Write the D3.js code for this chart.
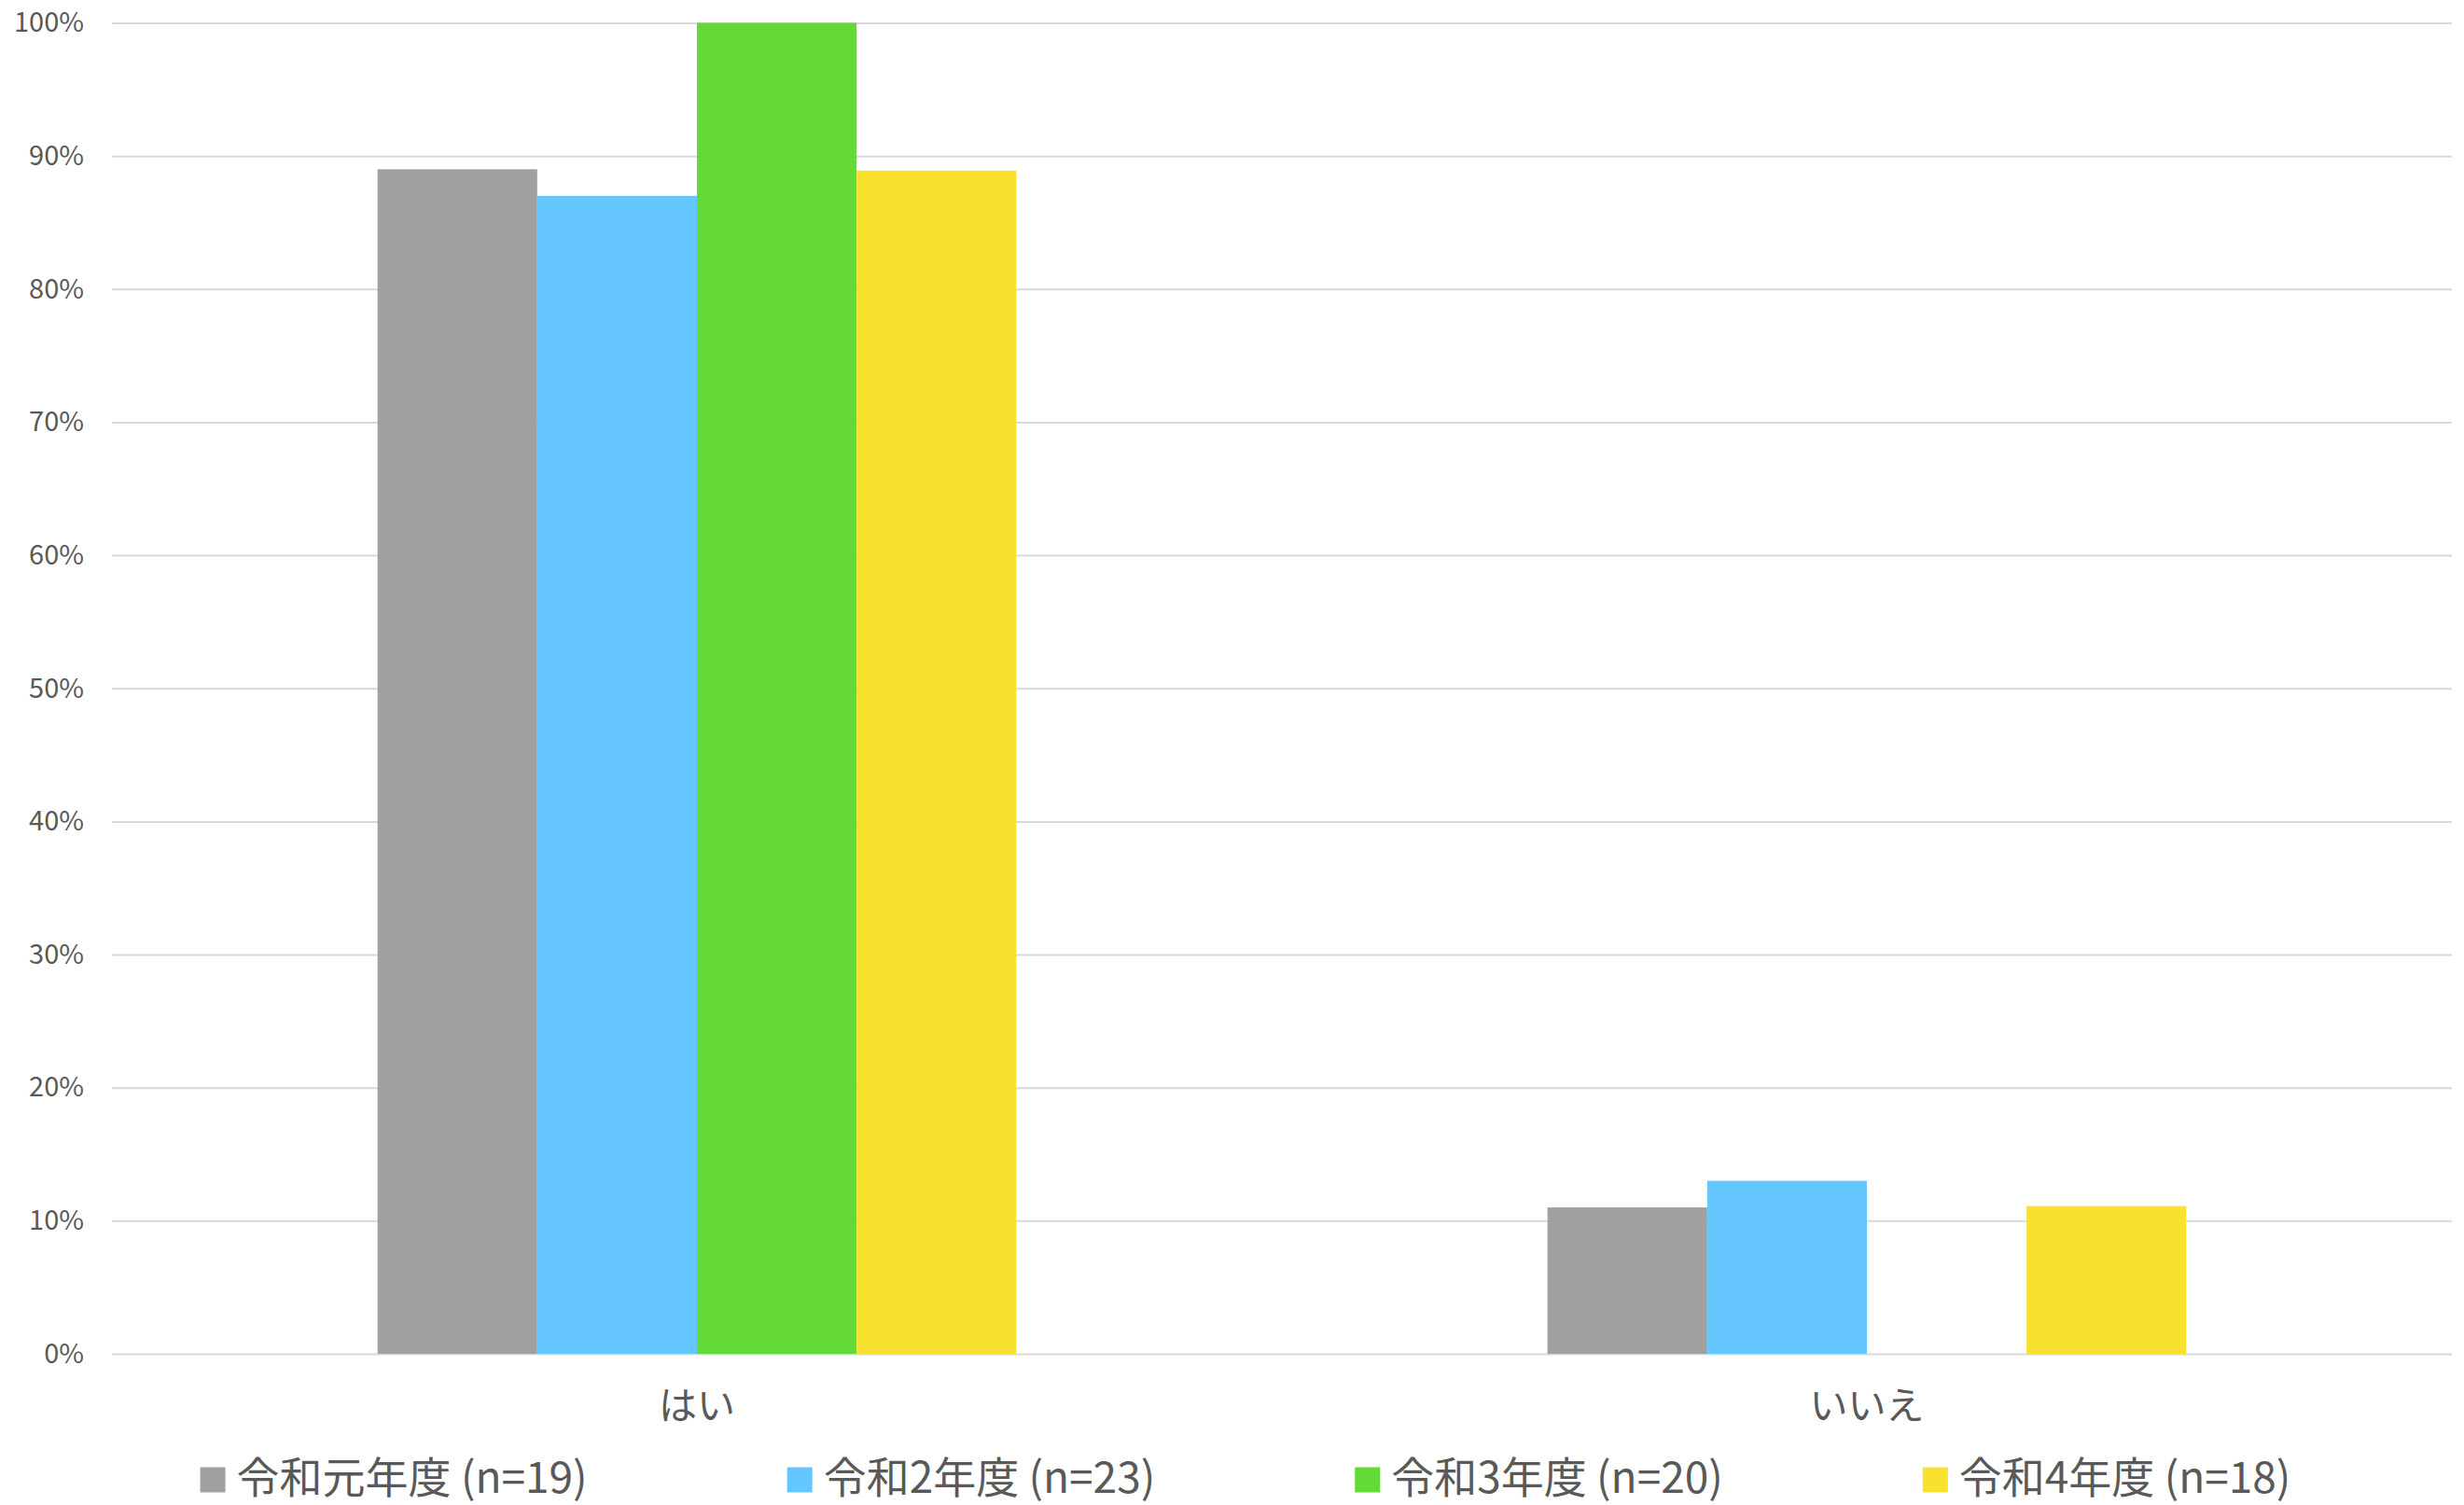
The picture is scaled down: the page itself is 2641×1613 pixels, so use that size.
<!DOCTYPE html>
<html>
<head>
<meta charset="utf-8">
<script src="https://cdn.jsdelivr.net/npm/d3@7"></script>
<style>
  html, body { margin: 0; padding: 0; background: #fff; }
  svg { display: block; }
  text { font-family: "Noto Sans CJK JP", "Noto Sans", sans-serif; fill: #595959; }
</style>
</head>
<body>
<svg id="chart" width="2641" height="1613"></svg>
<script>
// Survey answers by fiscal year (share of respondents)
const categories = ["はい", "いいえ"];
const seriesNames = ["令和元年度 (n=19)", "令和2年度 (n=23)", "令和3年度 (n=20)", "令和4年度 (n=18)"];
const r1Values = [0.89, 0.11];
const r2Values = [0.87, 0.13];
const r3Values = [1.00, 0.00];
const r4Values = [0.889, 0.111];
const seriesColors = ["#a0a0a0", "#66c7ff", "#63da38", "#f8e12f"];
const yTicks = [0, 0.1, 0.2, 0.3, 0.4, 0.5, 0.6, 0.7, 0.8, 0.9, 1.0];

const series = [r1Values, r2Values, r3Values, r4Values].map((vals, i) => ({
  name: seriesNames[i], color: seriesColors[i], values: vals
}));

const svg = d3.select("#chart");
const margin = { left: 120, right: 13, top: 24.5, bottom: 162 };
const W = 2641, H = 1613;
const plotBottom = H - margin.bottom;

const x0 = d3.scaleBand()
  .domain(categories)
  .range([margin.left, W - margin.right])
  .paddingInner(0.454)
  .paddingOuter(0.227);

const x1 = d3.scaleBand()
  .domain(d3.range(series.length))
  .range([0, x0.bandwidth()]);

const y = d3.scaleLinear().domain([0, 1]).range([plotBottom, margin.top]);

// horizontal gridlines and percentage labels
const yAxis = d3.axisLeft(y)
  .tickValues(yTicks)
  .tickFormat(d3.format(".0%"))
  .tickSize(-(W - margin.right - margin.left))
  .tickPadding(30);

const gy = svg.append("g")
  .attr("transform", `translate(${margin.left},0)`)
  .call(yAxis);
gy.select(".domain").remove();
gy.selectAll(".tick line").attr("stroke", "#d9d9d9").attr("stroke-width", 2);
gy.selectAll(".tick text")
  .attr("font-size", 29)
  .attr("fill", "#595959")
  .style("font-family", '"Noto Sans CJK JP", sans-serif');

// grouped bars
const groups = svg.append("g")
  .selectAll("g")
  .data(categories)
  .join("g")
  .attr("transform", d => `translate(${x0(d)},0)`);

groups.selectAll("rect")
  .data((c, ci) => series.map((s, si) => ({ si, value: s.values[ci], color: s.color })))
  .join("rect")
  .attr("x", d => x1(d.si))
  .attr("width", x1.bandwidth())
  .attr("y", d => y(d.value))
  .attr("height", d => plotBottom - y(d.value))
  .attr("fill", d => d.color);

// category labels
const xAxis = d3.axisBottom(x0).tickSize(0).tickPadding(0);
const gx = svg.append("g")
  .attr("transform", `translate(0,${plotBottom})`)
  .call(xAxis);
gx.select(".domain").remove();
gx.selectAll(".tick text")
  .attr("y", 56)
  .attr("dy", "0.35em")
  .attr("font-size", 41)
  .attr("fill", "#595959")
  .style("font-family", '"Noto Sans CJK JP", sans-serif');

// legend: entries laid out with a fixed gap, centered on the chart
const legendY = 1584;
const markerSize = 27;
const textGap = 12;
const entryGap = 214;
const legend = svg.append("g");
const entries = legend.selectAll("g")
  .data(series)
  .join("g");
entries.append("rect")
  .attr("width", markerSize)
  .attr("height", markerSize)
  .attr("y", legendY + 2 - markerSize / 2)
  .attr("fill", d => d.color);
entries.append("text")
  .attr("x", markerSize + textGap)
  .attr("y", legendY)
  .attr("dy", "0.35em")
  .attr("font-size", 46)
  .text(d => d.name);

const widths = [];
entries.each(function () {
  widths.push(markerSize + textGap + d3.select(this).select("text").node().getComputedTextLength());
});
const total = d3.sum(widths) + entryGap * (widths.length - 1);
let cursor = 1335 - total / 2;
entries.attr("transform", (d, i) => {
  const t = `translate(${cursor},0)`;
  cursor += widths[i] + entryGap;
  return t;
});
</script>
</body>
</html>
